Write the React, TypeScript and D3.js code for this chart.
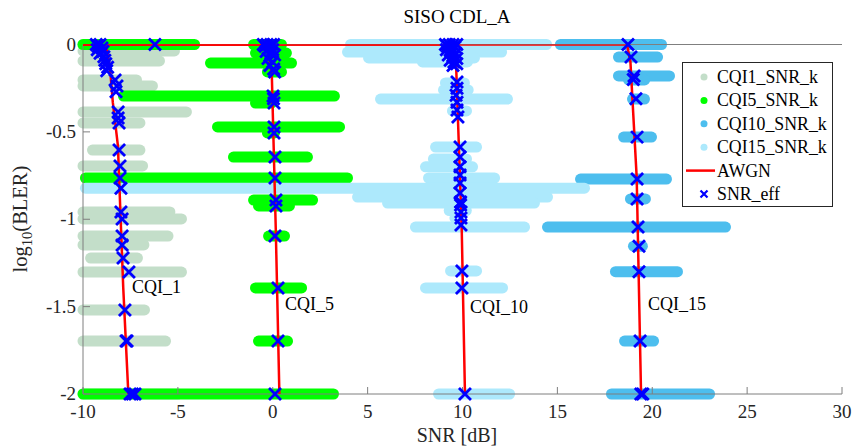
import * as d3 from "d3";

// each row: [log10(BLER), lowest SNR_k, highest SNR_k]
const cqi1SnrK = [
  [0, -10, -5.0], [-0.037, -10, -5.18], [-0.094, -10, -5.97], [-0.203, -10, -7.18],
  [-0.237, -10, -6.34], [-0.386, -10, -4.55], [-0.449, -10, -7.0], [-0.604, -9.5, -7.0],
  [-0.695, -10, -6.86], [-0.958, -10, -5.42], [-0.998, -10, -4.81], [-1.096, -10, -5.52],
  [-1.147, -10, -6.79], [-1.222, -9.6, -7.13], [-1.302, -10, -4.81], [-1.519, -10, -6.76],
  [-1.697, -10, -5.65], [-2, -10, -5.0],
];
const cqi5SnrK = [
  [0, -10, -4.12], [0, -1.01, 0.46], [-0.049, -0.91, 0.72], [-0.106, -3.28, 0.99],
  [-0.157, -0.28, 0.46], [-0.295, -7.87, 3.25], [-0.335, -0.91, -0.07], [-0.472, -2.91, 3.52],
  [-0.506, -0.28, 0.09], [-0.644, -2.07, 1.83], [-0.764, -9.87, 3.94], [-0.89, -1.01, 2.1],
  [-0.924, -0.75, 0.88], [-1.096, -0.22, 0.62], [-1.393, -0.91, 1.52], [-1.697, -0.75, 0.78],
  [-2, -10, 3.2],
];
const cqi10SnrK = [
  [0, 15.16, 20.49], [-0.072, 18.22, 20.28], [-0.18, 18.22, 20.91], [-0.203, 18.75, 19.6],
  [-0.312, 18.96, 19.59], [-0.53, 18.49, 19.96], [-0.77, 16.22, 20.75], [-0.884, 18.85, 19.64],
  [-1.045, 14.48, 23.86], [-1.154, 19.01, 19.48], [-1.3, 18.06, 21.33], [-1.697, 18.54, 20.07],
  [-2, 17.85, 23.02],
];
const cqi15SnrK = [
  [0, 4.1, 14.43], [-0.043, 3.94, 12.06], [-0.077, 5.05, 10.63], [-0.1, 7.89, 10.26],
  [-0.22, 9.1, 10.1], [-0.26, 9.0, 10.3], [-0.312, 5.68, 12.37], [-0.38, 9.47, 10.21],
  [-0.587, 8.58, 10.74], [-0.655, 8.47, 10.21], [-0.7, 8.05, 10.53], [-0.764, 8.21, 11.69],
  [-0.822, -9.87, 16.43], [-0.873, 4.47, 14.48], [-0.907, 6.05, 13.79], [-0.95, 9.3, 10.2],
  [-0.993, 9.6, 9.9], [-1.045, 7.52, 13.27], [-1.296, 9.37, 10.74], [-1.393, 8.05, 12.11],
  [-2, 8.74, 12.48],
];

// AWGN curves [SNR, log10(BLER)]
const awgnCqi1 = [[-10, 0], [-8.8, 0], [-8.58, -0.13], [-8.43, -0.33], [-8.16, -0.58], [-7.88, -1.39], [-7.61, -2]];
const awgnCqi5 = [[-10, 0], [-0.3, 0], [-0.05, -0.17], [0.16, -1.06], [0.35, -2]];
const awgnCqi10 = [[-10, 0], [9.4, 0], [9.66, -0.11], [9.96, -1.06], [10.13, -2]];
const awgnCqi15 = [[-10, 0], [18.67, 0], [18.85, -0.1], [19.18, -0.76], [19.41, -2]];

// SNR_eff [SNR, log10(BLER)]
const snrEff = [
  [-9.3, 0], [-9.2, -0.01], [-9.1, 0], [-9.0, -0.02], [-9.25, -0.03], [-8.95, -0.04], [-9.1, -0.05],
  [-8.9, -0.07], [-8.85, -0.09], [-8.8, -0.11], [-8.7, -0.13], [-8.75, -0.15], [-6.21, 0],
  [-8.31, -0.203], [-8.21, -0.237], [-8.26, -0.27], [-8.15, -0.386], [-8.15, -0.42], [-8.1, -0.449],
  [-8.1, -0.604], [-8.05, -0.695], [-8.05, -0.764], [-8.0, -0.822], [-8.0, -0.958], [-7.94, -0.998],
  [-7.94, -1.096], [-7.94, -1.147], [-7.89, -1.222], [-7.58, -1.302], [-7.79, -1.519], [-7.73, -1.697],
  [-7.68, -1.697], [-7.52, -2], [-7.26, -2], [-7.4, -2],
  [-0.5, 0], [-0.3, 0], [-0.1, 0], [0.05, 0], [-0.4, -0.01], [-0.2, -0.02], [0, -0.03], [-0.35, -0.04],
  [-0.1, -0.05], [0.1, -0.06], [-0.25, -0.08], [0, -0.1], [-0.15, -0.12], [0.05, -0.14], [0.1, -0.157],
  [0.013, -0.295], [0.04, -0.31], [0.066, -0.335], [0.066, -0.472], [0.066, -0.506], [0.119, -0.644],
  [0.119, -0.764], [0.17, -0.89], [0.17, -0.924], [0.119, -1.096], [0.277, -1.393], [0.277, -1.697], [0.119, -2],
  [9.1, 0], [9.3, 0], [9.5, 0], [9.7, 0], [9.2, -0.01], [9.45, -0.02], [9.6, -0.015], [9.15, -0.03],
  [9.4, -0.04], [9.65, -0.05], [9.25, -0.06], [9.5, -0.07], [9.7, -0.08], [9.35, -0.09], [9.55, -0.1],
  [9.7, -0.11], [9.5, -0.12],
  [9.71, -0.215], [9.71, -0.25], [9.66, -0.29], [9.71, -0.33], [9.71, -0.375], [9.76, -0.415],
  [9.87, -0.587], [9.87, -0.644], [9.87, -0.7], [9.87, -0.747], [9.87, -0.793], [9.87, -0.85],
  [9.9, -0.901], [9.9, -0.918], [9.92, -0.958], [9.92, -0.993], [9.92, -1.033],
  [9.97, -1.296], [9.97, -1.393], [10.13, -2],
  [18.72, 0], [18.88, -0.072], [19.04, -0.18], [19.0, -0.2], [19.14, -0.31], [19.2, -0.53],
  [19.2, -0.77], [19.2, -0.884], [19.25, -1.045], [19.3, -1.154], [19.3, -1.3], [19.36, -1.697],
  [19.4, -2], [19.5, -2],
];

const xTicks = [-10, -5, 0, 5, 10, 15, 20, 25, 30];
const yTicks = [0, -0.5, -1, -1.5, -2];
const yTickLabels = ["0", "-0.5", "-1", "-1.5", "-2"];
const annotations = [
  { text: "CQI_1", snr: -7.42, bler: -1.39 },
  { text: "CQI_5", snr: 0.65, bler: -1.485 },
  { text: "CQI_10", snr: 10.4, bler: -1.5 },
  { text: "CQI_15", snr: 19.78, bler: -1.485 },
];

const groups = [
  { name: "CQI1_SNR_k", rows: cqi1SnrK, color: "#c3dec9" },
  { name: "CQI5_SNR_k", rows: cqi5SnrK, color: "#00ff00" },
  { name: "CQI10_SNR_k", rows: cqi10SnrK, color: "#4dbeee" },
  { name: "CQI15_SNR_k", rows: cqi15SnrK, color: "#ade9fc" },
];

const serif = { fontFamily: "Liberation Serif, Times New Roman, serif" };

export default function App() {
  const width = 856;
  const height = 447;
  const x = d3.scaleLinear().domain([-10, 30]).range([83, 842]);
  const y = d3.scaleLinear().domain([-2, 0]).range([394, 44.5]);
  const line = d3.line<number[]>().x(d => x(d[0])).y(d => y(d[1]));
  const axisColor = "#7f7f7f";
  const cross = "M-6,-6L6,6M-6,6L6,-6";

  const legendRows = [...groups.map(g => g.name), "AWGN", "SNR_eff"];

  return (
    <svg width={width} height={height} style={{ position: "absolute", left: 0, top: 0, background: "#fff", ...serif }}>
      <defs>
        <clipPath id="plotArea">
          <rect x={83} y={44.5} width={759} height={349.5} />
        </clipPath>
      </defs>

      {/* SNR_k scatter rows */}
      {groups.map(g => (
        <g key={g.name}>
          {g.rows.map((r, i) => (
            <line key={i} x1={x(r[1])} x2={x(r[2])} y1={y(r[0])} y2={y(r[0])}
              stroke={g.color} strokeWidth={11} strokeLinecap="round" />
          ))}
        </g>
      ))}

      {/* axes */}
      <line x1={83} x2={842} y1={44.5} y2={44.5} stroke={axisColor} />
      <line x1={83} x2={842} y1={394} y2={394} stroke={axisColor} />
      <line x1={83} x2={83} y1={44.5} y2={394} stroke={axisColor} />
      {xTicks.map(t => (
        <g key={t}>
          <line x1={x(t)} x2={x(t)} y1={394} y2={387} stroke={axisColor} />
          <text x={x(t)} y={418} textAnchor="middle" fontSize={19} fill="#262626" style={serif}>{t}</text>
        </g>
      ))}
      {yTicks.map((t, i) => (
        <g key={t}>
          <line x1={83} x2={90} y1={y(t)} y2={y(t)} stroke={axisColor} />
          <text x={76} y={y(t) + 6} textAnchor="end" fontSize={19} fill="#262626" style={serif}>{yTickLabels[i]}</text>
        </g>
      ))}

      {/* AWGN */}
      <g clipPath="url(#plotArea)">
        {[awgnCqi1, awgnCqi5, awgnCqi10, awgnCqi15].map((c, i) => (
          <path key={i} d={line(c) || ""} fill="none" stroke="#ff0000" strokeWidth={2.5} />
        ))}
      </g>

      {/* SNR_eff */}
      {snrEff.map((p, i) => (
        <path key={i} d={cross} transform={`translate(${x(p[0])},${y(p[1])})`} stroke="#0000ff" strokeWidth={2.8} fill="none" />
      ))}

      {annotations.map(a => (
        <text key={a.text} x={x(a.snr)} y={y(a.bler) + 6} fontSize={18} fill="#000" style={serif}>{a.text}</text>
      ))}

      {/* titles */}
      <text x={457} y={23} textAnchor="middle" fontSize={19} fill="#000" style={serif}>SISO CDL_A</text>
      <text x={457} y={442} textAnchor="middle" fontSize={20} fill="#262626" style={serif}>SNR [dB]</text>
      <text transform="translate(27,219) rotate(-90)" textAnchor="middle" fontSize={20.5} fill="#262626" style={serif}>
        log<tspan dy={5} fontSize={14.5}>10</tspan><tspan dy={-5}>(BLER)</tspan>
      </text>

      {/* legend */}
      <rect x={682.5} y={62.5} width={150} height={144} fill="#fff" stroke="#262626" />
      {legendRows.map((name, i) => {
        const ly = 77 + i * 23.4;
        return (
          <g key={name}>
            {i < 4 && <circle cx={704} cy={ly} r={3.5} fill={groups[i].color} />}
            {i === 4 && <line x1={686} x2={715} y1={ly} y2={ly} stroke="#ff0000" strokeWidth={2.5} />}
            {i === 5 && <path d="M-3.5,-3.5L3.5,3.5M-3.5,3.5L3.5,-3.5" transform={`translate(704,${ly})`} stroke="#0000ff" strokeWidth={2.2} />}
            <text x={717} y={ly + 6} fontSize={17.8} fill="#000" style={serif}>{name}</text>
          </g>
        );
      })}
    </svg>
  );
}
